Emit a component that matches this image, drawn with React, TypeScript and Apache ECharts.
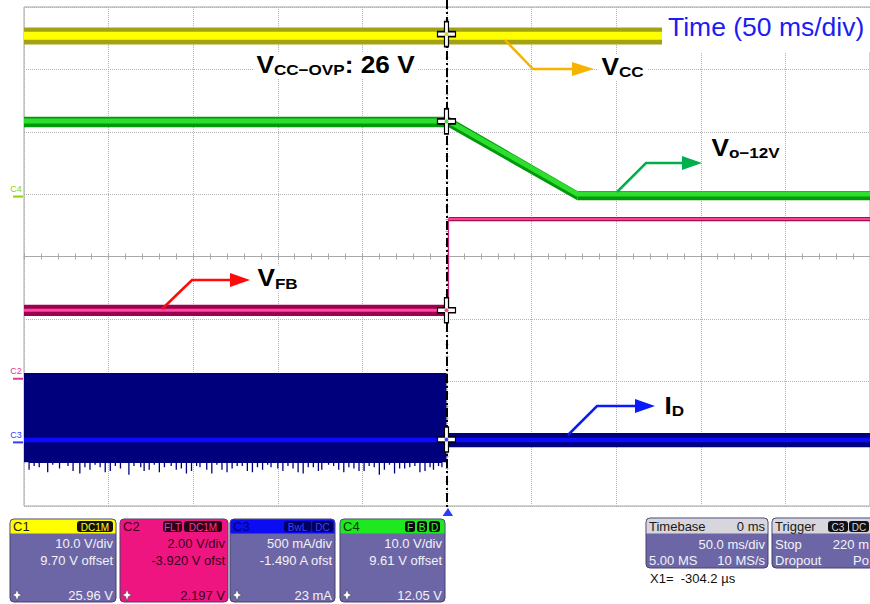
import React, { useEffect, useRef } from "react";
import * as echarts from "echarts";

// ---------- time base (ms), 50 ms/div, trigger at 0 ----------
const timeMin = -250;
const timeMax = 250;
const timePerDiv = 50;

// ---------- channels ----------
const channelNames = ["C1", "C2", "C3", "C4"];
const channelScale = [10.0, 2.0, 0.5, 10.0]; // units per division
const channelOffset = [9.7, -3.92, -1.49, 9.61];
const channelMarkerColor = ["#d8d800", "#e8368a", "#3a3aff", "#8fd400"];

// ---------- VCC (C1, V) ----------
const vccTime = [-250, 250];
const vccValue = [25.7, 25.7];
const vccNoiseLow = [24.3, 24.3];
const vccNoiseHigh = [27.0, 27.0];

// ---------- Vo-12V (C4, V) ----------
const voTime = [-250, 1, 77, 250];
const voValue = [12.1, 12.1, 0.4, 0.4];
const voNoiseLow = [11.1, 11.1, -0.6, -0.6];
const voNoiseHigh = [12.8, 12.8, 0.9, 0.9];

// ---------- VFB (C2, V) ----------
const vfbBeforeTime = [-250, 0.5];
const vfbBeforeValue = [2.2, 2.2];
const vfbBeforeNoiseLow = [2.01, 2.01];
const vfbBeforeNoiseHigh = [2.37, 2.37];
const vfbStepTime = [0.9, 0.9];
const vfbStepValue = [2.2, 5.12];
const vfbAfterTime = [0.9, 250];
const vfbAfterValue = [5.12, 5.12];
const vfbAfterNoiseLow = [5.05, 5.05];
const vfbAfterNoiseHigh = [5.19, 5.19];

// ---------- ID (C3, A) ----------
const idTime = [-250, 250];
const idValue = [0.02, 0.02];
const idBeforeTime = [-250, -0.3];
const idBeforeNoiseLow = [-0.16, -0.16];
const idBeforeNoiseHigh = [0.556, 0.556];
const idAfterTime = [-0.3, 250];
const idAfterNoiseLow = [-0.04, -0.04];
const idAfterNoiseHigh = [0.075, 0.075];
const idSpikeTime = [
  -247, -244, -241, -236, -233, -229, -224, -221, -217, -214,
  -211, -208, -205, -202, -199, -196, -193, -188, -185, -181,
  -179, -176, -173, -170, -167, -163, -160, -157, -154, -151,
  -148, -146, -142, -139, -136, -133, -130, -127, -124, -121,
  -118, -115, -112, -109, -106, -104, -100, -97, -94, -91,
  -88, -85, -82, -79, -76, -74, -70, -67, -64, -61,
  -58, -55, -52, -49, -46, -43, -40, -37, -34, -31,
  -28, -25, -22, -19, -16, -13, -10, -8, -5, -3,
];
const idSpikeValue = [
  -0.22, -0.19, -0.2, -0.24, -0.18, -0.21, -0.19, -0.23, -0.25, -0.2,
  -0.22, -0.18, -0.2, -0.24, -0.23, -0.19, -0.21, -0.26, -0.19, -0.2,
  -0.23, -0.22, -0.18, -0.24, -0.2, -0.19, -0.22, -0.21, -0.25, -0.23,
  -0.19, -0.2, -0.22, -0.25, -0.18, -0.22, -0.24, -0.21, -0.19, -0.19,
  -0.23, -0.24, -0.2, -0.22, -0.18, -0.2, -0.21, -0.23, -0.19, -0.21,
  -0.24, -0.25, -0.2, -0.2, -0.23, -0.22, -0.18, -0.19, -0.22, -0.24,
  -0.2, -0.21, -0.23, -0.23, -0.19, -0.2, -0.26, -0.22, -0.18, -0.25,
  -0.21, -0.21, -0.2, -0.19, -0.24, -0.23, -0.2, -0.22, -0.19, -0.2,
];

// ---------- cursor X1 ----------
const cursorTime = -0.3042; // ms
const cursorValue = [25.96, 2.197, 0.023, 12.05]; // C1..C4

// ---------- readout panels ----------
const panelScaleText = ["10.0 V/div", "2.00 V/div", "500 mA/div", "10.0 V/div"];
const panelOffsetText = ["9.70 V offset", "-3.920 V ofst", "-1.490 A ofst", "9.61 V offset"];
const panelCursorText = ["25.96 V", "2.197 V", "23 mA", "12.05 V"];
const timebaseText = ["Timebase", "0 ms", "50.0 ms/div", "5.00 MS", "10 MS/s"];
const triggerText = ["Trigger", "Stop", "220 m", "Dropout", "Po"];
const cursorReadout = "X1=  -304.2 µs";

const FONT = "'Liberation Sans', Arial, Helvetica, sans-serif";
const BODY = "#6d66a6";

function toDiv(ch: number, v: number) {
  return 4 + (v + channelOffset[ch]) / channelScale[ch];
}
function pts(ch: number, ts: number[], vs: number[]) {
  return ts.map((t, i) => [t, toDiv(ch, vs[i])]);
}
// noise envelope drawn as filled polygons between low and high readings
function band(ch: number, ts: number[], lo: number[], hi: number[], color: string) {
  const data: number[][] = [];
  for (let i = 0; i < ts.length - 1; i++) {
    data.push([ts[i], toDiv(ch, lo[i]), toDiv(ch, hi[i]), ts[i + 1], toDiv(ch, lo[i + 1]), toDiv(ch, hi[i + 1])]);
  }
  return {
    type: "custom", silent: true, data,
    encode: { x: [0, 3], y: [1, 2, 4, 5] },
    renderItem: (params: any, api: any) => {
      const a = api.coord([api.value(0), api.value(1)]);
      const b = api.coord([api.value(0), api.value(2)]);
      const c = api.coord([api.value(3), api.value(5)]);
      const d = api.coord([api.value(3), api.value(4)]);
      return { type: "polygon", shape: { points: [a, b, c, d] }, style: { fill: color } };
    },
  };
}
function core(ch: number, ts: number[], vs: number[], color: string, width: number) {
  return {
    type: "line", symbol: "none", silent: true,
    data: pts(ch, ts, vs),
    lineStyle: { color, width },
  };
}

function txt(text: string, x: number, y: number, opt: any = {}) {
  return {
    type: "text", z: 20,
    style: {
      text, x, y,
      fontFamily: FONT, fontSize: opt.size || 13, fontWeight: opt.weight || "normal",
      fill: opt.fill || "#f2f2f8", align: opt.align || "left", verticalAlign: "middle",
    },
  };
}
function badge(x1: number, x2: number, text: string, bg: string, fg: string, y1 = 521, y2 = 532) {
  return [
    { type: "rect", z: 19, shape: { x: x1, y: y1, width: x2 - x1, height: y2 - y1, r: 3 }, style: { fill: bg } },
    txt(text, (x1 + x2) / 2, (y1 + y2) / 2 + 0.5, { size: 10, fill: fg, align: "center" }),
  ];
}
function icon(cx: number, cy: number, fill: string) {
  return {
    type: "polygon", z: 20,
    shape: {
      points: [
        [cx, cy - 6], [cx + 1.5, cy - 1.5], [cx + 5, cy], [cx + 1.5, cy + 1.5],
        [cx, cy + 6], [cx - 1.5, cy + 1.5], [cx - 5, cy], [cx - 1.5, cy - 1.5],
      ],
    },
    style: { fill, stroke: "#333", lineWidth: 0.5 },
  };
}
function channelPanel(i: number, x: number, w: number, head: string, body: string, headText: string, bodyText: string, badges: any[]) {
  const els: any[] = [
    { type: "rect", z: 18, shape: { x, y: 519, width: w, height: 83, r: 4 }, style: { fill: body, stroke: "#45416b", lineWidth: 1 } },
    { type: "rect", z: 18, shape: { x: x + 0.5, y: 519.5, width: w - 1, height: 14, r: [4, 4, 0, 0] }, style: { fill: head } },
    txt(channelNames[i], x + 3, 526.5, { fill: headText }),
    txt(panelScaleText[i], x + w - 3, 543.5, { align: "right", fill: bodyText }),
    txt(panelOffsetText[i], x + w - 3, 560, { align: "right", fill: bodyText }),
    txt(panelCursorText[i], x + w - 3, 595.5, { align: "right", fill: bodyText }),
    icon(x + 7, 595, "#ffffff"),
  ];
  return els.concat(...badges);
}
function label(main: string, sub: string, rest: string, x: number, y: number) {
  return {
    type: "text", z: 15, x, y, scaleX: 1.14,
    style: {
      text: "{b|" + main + "}{s|" + sub + "}" + (rest ? "{b|" + rest + "}" : ""),
      x: 0, y: 0, align: "left", verticalAlign: "middle",
      backgroundColor: "#ffffff", padding: [1, 3],
      rich: {
        b: { fontFamily: FONT, fontSize: 23, fontWeight: "bold", fill: "#000", lineHeight: 24 },
        s: { fontFamily: FONT, fontSize: 15, fontWeight: "bold", fill: "#000", lineHeight: 12, verticalAlign: "bottom" },
      },
    },
  };
}
function arrow(p: number[][], head: number[][], color: string) {
  return [
    { type: "polyline", z: 16, shape: { points: p }, style: { stroke: color, lineWidth: 2.5, fill: "none" } },
    { type: "polygon", z: 16, shape: { points: head }, style: { fill: color } },
  ];
}

const CROSS = "path://M7,0 L11,0 L11,10 L18,10 L18,15 L11,15 L11,25 L7,25 L7,15 L0,15 L0,10 L7,10 Z";

export default function App() {
  const ref = useRef<HTMLDivElement>(null);
  useEffect(() => {
    if (!ref.current) return;
    const chart = echarts.init(ref.current, null, { renderer: "svg" });

    const spikeData: number[][] = [];
    idSpikeTime.forEach((t, i) => {
      spikeData.push([t, toDiv(2, idBeforeNoiseLow[0])], [t, toDiv(2, idSpikeValue[i])], [t, toDiv(2, idBeforeNoiseLow[0])]);
    });

    const tickStyle = { color: "#a8a8a8", width: 1 };
    const hidden = { show: false };
    const option: any = {
      animation: false,
      backgroundColor: "#ffffff",
      grid: { left: 24, top: 7, width: 849, height: 499, show: true, borderColor: "#a6a6a6", borderWidth: 1 },
      xAxis: [
        {
          type: "value", min: timeMin, max: timeMax, interval: timePerDiv,
          axisLine: hidden, axisTick: hidden, axisLabel: hidden,
          splitLine: { show: true, lineStyle: { color: "#b4b4b4", type: "dotted", width: 1 } },
        },
        {
          type: "value", min: timeMin, max: timeMax, interval: timePerDiv, position: "bottom", offset: -249.5,
          axisLine: { show: true, onZero: false, lineStyle: tickStyle },
          axisTick: { show: true, inside: true, length: 3, lineStyle: tickStyle },
          minorTick: { show: true, splitNumber: 5, length: 3, lineStyle: tickStyle },
          axisLabel: hidden, splitLine: hidden,
        },
        {
          type: "value", min: timeMin, max: timeMax, interval: timePerDiv, position: "bottom", offset: -249.5,
          axisLine: { show: false, onZero: false },
          axisTick: { show: true, inside: false, length: 3, lineStyle: tickStyle },
          minorTick: { show: true, splitNumber: 5, length: 3, lineStyle: tickStyle },
          axisLabel: hidden, splitLine: hidden,
        },
      ],
      yAxis: [
        {
          type: "value", min: 0, max: 8, interval: 1,
          axisLine: hidden, axisTick: hidden, axisLabel: hidden,
          splitLine: { show: true, lineStyle: { color: "#b4b4b4", type: "dotted", width: 1 } },
        },
        {
          type: "value", min: 0, max: 8, interval: 1, position: "left", offset: -424.5,
          axisLine: { show: false, onZero: false },
          axisTick: { show: true, inside: false, length: 3, lineStyle: tickStyle },
          minorTick: { show: true, splitNumber: 5, length: 3, lineStyle: tickStyle },
          axisLabel: hidden, splitLine: hidden,
        },
      ],
      series: [
        band(0, vccTime, vccNoiseLow, vccNoiseHigh, "#a3a312"),
        band(3, voTime, voNoiseLow, voNoiseHigh, "#00990a"),
        band(1, vfbBeforeTime, vfbBeforeNoiseLow, vfbBeforeNoiseHigh, "#9c0050"),
        band(1, vfbAfterTime, vfbAfterNoiseLow, vfbAfterNoiseHigh, "#a8104e"),
        band(2, idBeforeTime, idBeforeNoiseLow, idBeforeNoiseHigh, "#00007c"),
        band(2, idAfterTime, idAfterNoiseLow, idAfterNoiseHigh, "#00007c"),
        { type: "line", symbol: "none", silent: true, data: spikeData, lineStyle: { color: "#00007c", width: 1.3 } },
        core(0, vccTime, vccValue, "#ffff00", 8),
        core(3, voTime, voValue, "#2ede2e", 5),
        core(1, vfbBeforeTime, vfbBeforeValue, "#ff4aa2", 3),
        core(1, vfbStepTime, vfbStepValue, "#c02a72", 1.2),
        core(1, vfbAfterTime, vfbAfterValue, "#ff3d98", 2),
        core(2, idTime, idValue, "#0c0cff", 4.5),
        {
          type: "scatter", silent: true, symbol: CROSS, symbolSize: [18, 25], z: 5,
          itemStyle: { color: "#ffffff", borderColor: "#000000", borderWidth: 1.4, opacity: 1 },
          data: cursorValue.map((v, ch) => [cursorTime, toDiv(ch, v)]),
        },
        {
          type: "scatter", silent: true, symbol: "circle", symbolSize: 4, z: 6,
          data: cursorValue.map((v, ch) => ({
            value: [cursorTime, toDiv(ch, v)],
            itemStyle: { color: ["#c8c800", "#e0207a", "#0c0cff", "#1ec81e"][ch] },
          })),
        },
      ],
    };
    chart.setOption(option);

    // decorations positioned through the axes
    const trig = chart.convertToPixel({ xAxisIndex: 0, yAxisIndex: 0 }, [0, 0]) as number[];
    const markers: any[] = [];
    [3, 1, 2].forEach((ch) => {
      const p = chart.convertToPixel({ xAxisIndex: 0, yAxisIndex: 0 }, [timeMin, toDiv(ch, 0)]) as number[];
      markers.push(
        { type: "line", z: 20, shape: { x1: p[0] - 11, y1: p[1], x2: p[0] - 1, y2: p[1] }, style: { stroke: channelMarkerColor[ch], lineWidth: 2 } },
        { type: "text", z: 20, style: { text: channelNames[ch], x: p[0] - 8, y: p[1] - 3, fontFamily: FONT, fontSize: 9, fill: channelMarkerColor[ch], align: "center", verticalAlign: "bottom" } }
      );
    });

    const elements: any[] = [
      // trigger time line (t = 0)
      { type: "line", z: 4, shape: { x1: trig[0], y1: 0, x2: trig[0], y2: trig[1] + 2 }, style: { stroke: "#000000", lineWidth: 2, lineDash: [9, 3, 2, 3] } },
      // title box
      { type: "rect", z: 12, shape: { x: 662, y: 8, width: 210, height: 44 }, style: { fill: "#ffffff" } },
      { type: "text", z: 13, x: 668, y: 27, scaleX: 1.06, style: { text: "Time (50 ms/div)", x: 0, y: 0, fontFamily: FONT, fontSize: 25, fill: "#1c1cf5", align: "left", verticalAlign: "middle" } },
      // trace labels
      label("V", "CC−OVP", ": 26 V", 253, 65),
      label("V", "CC", "", 598, 67),
      label("V", "o−12V", "", 708, 148),
      label("V", "FB", "", 254, 278.5),
      label("I", "D", "", 661, 406),
      ...arrow([[505, 40], [533, 69], [575, 69]], [[572, 62], [594, 69], [572, 76]], "#f6b400"),
      ...arrow([[617, 192], [646, 163], [684, 163]], [[682, 156], [702, 163], [682, 170]], "#00b04c"),
      ...arrow([[162, 309], [192, 280], [232, 280]], [[230, 273], [250, 280], [230, 287]], "#ff0a0a"),
      ...arrow([[568, 435], [597, 406], [637, 406]], [[635, 399], [655, 406], [635, 413]], "#0a1aff"),
      // trigger marker
      { type: "polygon", z: 20, shape: { points: [[trig[0] - 4.5, trig[1] + 10], [trig[0] + 1, trig[1] + 2], [trig[0] + 6, trig[1] + 10]] }, style: { fill: "#2a3cff" } },
      ...markers,
      // channel panels
      ...channelPanel(0, 10, 106, "#ffff00", BODY, "#1a1a1a", "#f2f2f8", [badge(77, 113, "DC1M", "#111111", "#ffff00")]),
      ...channelPanel(1, 120, 108, "#ee1580", "#ee1580", "#3a0020", "#3a0020", [
        badge(163, 182, "FLT", "#2a0018", "#ff3399"),
        badge(184, 222, "DC1M", "#2a0018", "#ff3399"),
      ]),
      ...channelPanel(2, 230, 105, "#0c0cf4", BODY, "#000070", "#f2f2f8", [
        badge(284, 311, "BwL", "#00005a", "#4040ff"),
        badge(312, 333, "DC", "#00005a", "#4040ff"),
      ]),
      ...channelPanel(3, 340, 105, "#1ee81e", BODY, "#003c00", "#f2f2f8", [
        badge(405, 415, "F", "#0a0a0a", "#33ff33"),
        badge(417, 427, "B", "#0a0a0a", "#33ff33"),
        badge(429, 440, "D", "#0a0a0a", "#33ff33"),
      ]),
      // timebase
      { type: "rect", z: 18, shape: { x: 646, y: 518, width: 122, height: 50, r: 4 }, style: { fill: BODY, stroke: "#45416b", lineWidth: 1 } },
      { type: "rect", z: 18, shape: { x: 646.5, y: 518.5, width: 121, height: 15, r: [4, 4, 0, 0] }, style: { fill: "#d6d6dc" } },
      txt(timebaseText[0], 649, 526.5, { fill: "#1a1a1a" }),
      txt(timebaseText[1], 765, 526.5, { fill: "#1a1a1a", align: "right" }),
      txt(timebaseText[2], 765, 544, { align: "right" }),
      txt(timebaseText[3], 649, 560),
      txt(timebaseText[4], 765, 560, { align: "right" }),
      // trigger
      { type: "rect", z: 18, shape: { x: 772, y: 518, width: 130, height: 50, r: 4 }, style: { fill: BODY, stroke: "#45416b", lineWidth: 1 } },
      { type: "rect", z: 18, shape: { x: 772.5, y: 518.5, width: 129, height: 15, r: [4, 4, 0, 0] }, style: { fill: "#d6d6dc" } },
      txt(triggerText[0], 775, 526.5, { fill: "#1a1a1a" }),
      ...badge(828, 848, "C3", "#111111", "#d6d6dc"),
      ...badge(849, 869, "DC", "#111111", "#d6d6dc"),
      txt(triggerText[1], 775, 544),
      txt(triggerText[2], 869, 544, { align: "right" }),
      txt(triggerText[3], 775, 560),
      txt(triggerText[4], 869, 560, { align: "right" }),
      txt(cursorReadout, 650, 578, { fill: "#111111" }),
    ];
    chart.setOption({ graphic: { elements } });

    return () => chart.dispose();
  }, []);
  return <div ref={ref} style={{ position: "fixed", left: 0, top: 0, width: 870, height: 604, background: "#fff" }} />;
}
